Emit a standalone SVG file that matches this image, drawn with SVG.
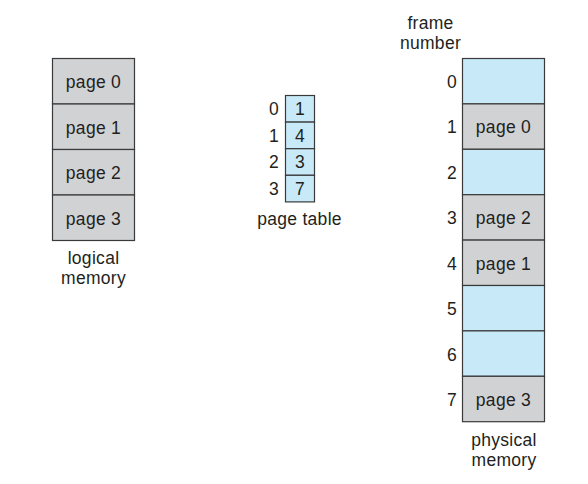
<svg xmlns="http://www.w3.org/2000/svg" width="588" height="484" viewBox="0 0 588 484">
<style>
text{font-family:"Liberation Sans",Arial,sans-serif;font-size:17.5px;letter-spacing:0.3px;fill:#231f20}
.c{text-anchor:middle}
.r{text-anchor:end}
.g{fill:#d1d2d4;stroke:#3a3a3a;stroke-width:1.2}
.b{fill:#c8e9f8;stroke:#3a3a3a;stroke-width:1.2}
</style>
<rect width="588" height="484" fill="#fff"/>
<g id="logical-memory">
<rect class="g" x="52.5" y="58.5" width="82" height="45.5"/>
<rect class="g" x="52.5" y="104" width="82" height="45.5"/>
<rect class="g" x="52.5" y="149.5" width="82" height="45.5"/>
<rect class="g" x="52.5" y="195" width="82" height="45.5"/>
<text class="c" x="93.5" y="88">page 0</text>
<text class="c" x="93.5" y="133.5">page 1</text>
<text class="c" x="93.5" y="179">page 2</text>
<text class="c" x="93.5" y="224.5">page 3</text>
<text class="c" x="93.5" y="264">logical</text>
<text class="c" x="93.5" y="284">memory</text>
</g>
<g id="page-table">
<rect class="b" x="285.5" y="95.5" width="29" height="26.6"/>
<rect class="b" x="285.5" y="122.1" width="29" height="26.6"/>
<rect class="b" x="285.5" y="148.7" width="29" height="26.6"/>
<rect class="b" x="285.5" y="175.3" width="29" height="26.6"/>
<text class="c" x="300" y="115">1</text>
<text class="c" x="300" y="141.5">4</text>
<text class="c" x="300" y="168">3</text>
<text class="c" x="300" y="194.5">7</text>
<text class="r" x="279" y="115">0</text>
<text class="r" x="279" y="141.5">1</text>
<text class="r" x="279" y="168">2</text>
<text class="r" x="279" y="194.5">3</text>
<text class="c" x="299.5" y="225">page table</text>
</g>
<g id="physical-memory">
<rect class="b" x="462.5" y="58.5" width="82" height="45.4"/>
<rect class="g" x="462.5" y="103.9" width="82" height="45.4"/>
<rect class="b" x="462.5" y="149.3" width="82" height="45.4"/>
<rect class="g" x="462.5" y="194.7" width="82" height="45.4"/>
<rect class="g" x="462.5" y="240.1" width="82" height="45.4"/>
<rect class="b" x="462.5" y="285.5" width="82" height="45.4"/>
<rect class="b" x="462.5" y="330.9" width="82" height="45.4"/>
<rect class="g" x="462.5" y="376.3" width="82" height="45.4"/>
<text class="c" x="503.5" y="133">page 0</text>
<text class="c" x="503.5" y="224">page 2</text>
<text class="c" x="503.5" y="269.5">page 1</text>
<text class="c" x="503.5" y="405.5">page 3</text>
<text class="r" x="457" y="87.5">0</text>
<text class="r" x="457" y="133">1</text>
<text class="r" x="457" y="178.5">2</text>
<text class="r" x="457" y="224">3</text>
<text class="r" x="457" y="269.5">4</text>
<text class="r" x="457" y="315">5</text>
<text class="r" x="457" y="360.5">6</text>
<text class="r" x="457" y="405.5">7</text>
<text class="c" x="430.5" y="29">frame</text>
<text class="c" x="430.5" y="49">number</text>
<text class="c" x="504" y="446">physical</text>
<text class="c" x="504" y="466">memory</text>
</g>
<g id="connectors"></g>
</svg>
